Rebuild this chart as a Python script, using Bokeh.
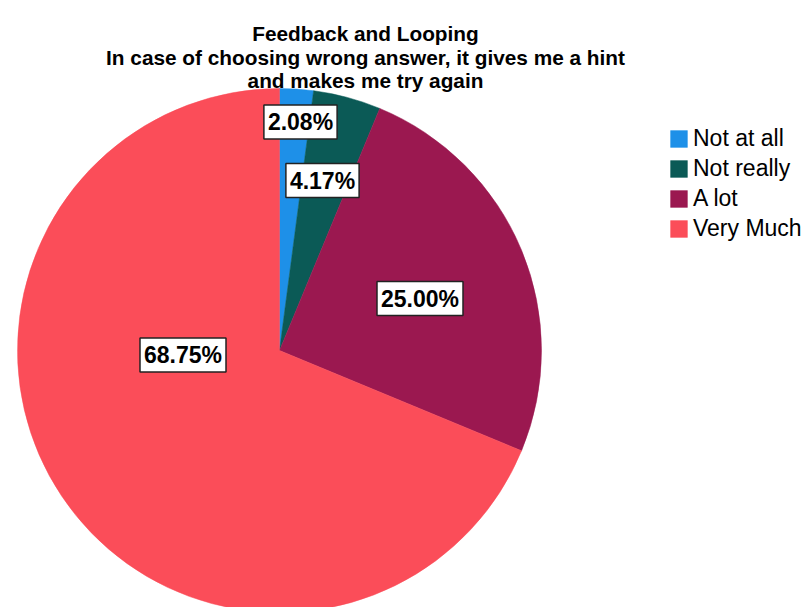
from bokeh.plotting import figure
from bokeh.models import ColumnDataSource, Range1d, Legend, LegendItem
from bokeh.core.properties import value
from bokeh.embed import file_html
from bokeh.resources import INLINE
import math

# ---- data ----
categories = ["Not at all", "Not really", "A lot", "Very Much"]
percents = [2.08, 4.17, 25.00, 68.75]
colors = ["#1e90e8", "#0b5a56", "#9b1850", "#fb4d59"]
title_lines = ["Feedback and Looping",
               "In case of choosing wrong answer, it gives me a hint",
               "and makes me try again"]

# ---- layout ----
W, H = 805, 607
cx, cy, R = 279, H - 350, 262
label_dx = [21, 43, 140.5, -96.5]
label_dy = [228.5, 170, 52, -4.5]
title_base = [33, 57, 80]

total = sum(percents)
starts, ends = [], []
acc = 0.0
for v in percents:
    starts.append(math.pi / 2 - acc / total * 2 * math.pi)
    acc += v
    ends.append(math.pi / 2 - acc / total * 2 * math.pi)

src = ColumnDataSource(dict(
    cat=categories, start=starts, end=ends, color=colors,
    x=[cx] * 4, y=[cy] * 4,
))

p = figure(width=W, height=H, output_backend="svg", toolbar_location=None,
           x_range=Range1d(0, W), y_range=Range1d(0, H), min_border=0)
p.axis.visible = False
p.grid.visible = False
p.outline_line_color = None
p.background_fill_color = "white"

r = p.wedge(x="x", y="y", radius=R, start_angle="start", end_angle="end",
            direction="clock", fill_color="color", line_color="color",
            line_width=0.5, source=src)

lab_src = ColumnDataSource(dict(
    x=[cx + d for d in label_dx],
    y=[cy + d for d in label_dy],
    t=["%.2f%%" % v for v in percents],
))
p.text(x="x", y="y", text="t", source=lab_src, text_align="center",
       text_baseline="middle", text_font=value("Liberation Sans"),
       text_font_style="bold", text_font_size="23px", text_color="black",
       background_fill_color="white", border_line_color="#222222",
       border_line_width=1.5, padding=4)

tsrc = ColumnDataSource(dict(x=[365] * 3, y=[H - b for b in title_base], t=title_lines))
p.text(x="x", y="y", text="t", source=tsrc, text_align="center",
       text_baseline="alphabetic", text_font=value("Liberation Sans"),
       text_font_style="bold", text_font_size="20.8px", text_color="black")

legend = Legend(location=(668, 607 - 127 - 115))
legend.items = [LegendItem(label=c, renderers=[r], index=i) for i, c in enumerate(categories)]
legend.glyph_width = 21
legend.glyph_height = 21
legend.label_height = 21
legend.spacing = 3
legend.padding = 0
legend.margin = 0
legend.label_standoff = 4
legend.label_text_font = "Liberation Sans"
legend.label_text_font_size = "23px"
legend.label_text_color = "black"
legend.border_line_color = None
legend.background_fill_alpha = 0
p.add_layout(legend, "center")

open("out.html", "w").write(file_html(p, INLINE))
